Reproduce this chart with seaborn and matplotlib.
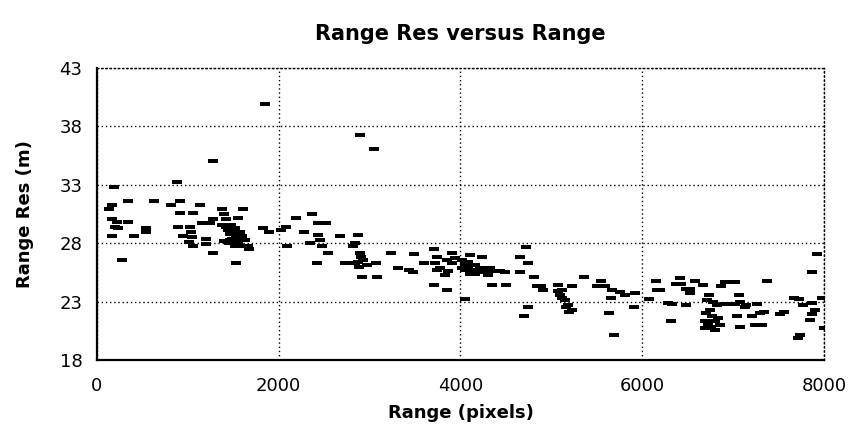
import numpy as np
import pandas as pd
import matplotlib
matplotlib.use("Agg")
import matplotlib.pyplot as plt
import matplotlib.ticker as mticker
import seaborn as sb

# values
range_pix = [
    187, 880, 341, 627, 913, 814, 1133, 165, 132, 1606, 913, 1056, 1375, 165, 220, 341,
    198, 231, 539, 539, 165, 407, 891, 1023, 946, 1155, 1243, 1276, 1397, 1419, 1375,
    1441, 1463, 1485, 1463, 1573, 1628, 1518, 1595, 1661, 1672, 1573, 1551, 1012, 1056,
    1034, 1045, 1199, 1276, 275, 1529, 1199, 1826, 1420, 1500, 1530, 1400, 1600,
    1450, 1500, 1550, 1480, 1520,
    1848, 1276, 2893, 3047,
    1892, 2024, 2079, 2189, 2365, 2431, 2519, 2277, 2090, 2431, 2453, 2343, 2475, 2541,
    2420, 2673, 2871, 2838, 2816, 2893, 2926, 2970, 2871, 2728, 2838, 3069, 2915, 3080,
    3234, 3487, 3311, 3432, 3476, 3597, 3707, 3740, 3850, 3905, 3938, 3905, 3718, 3773,
    3828, 3740, 3861, 3707, 3850, 2880, 2900,
    4015, 4081, 4158, 4048, 4158, 4235, 4103, 4235, 4323, 4400, 4345, 4499, 4488, 4719,
    4653, 4741, 4653, 4807, 4741, 4697, 4840, 4884, 4906, 4048, 4213, 4433, 4103, 4081,
    4015, 4290, 4150, 4200, 4050, 4300,
    5071, 5115, 5093, 5148, 5181, 5225, 5225, 5357, 5192, 5500, 5588, 5544, 5665, 5753,
    5808, 5654, 5918, 5632, 5907, 5687, 5071, 5120, 5160,
    6072, 6149, 6160, 6193, 6314, 6325, 6281, 6479, 6413, 6424, 6369, 6479, 6523, 6578,
    6666, 6523, 6732, 6710, 6776, 6820, 6743, 6765, 6688, 6688, 6798, 6853, 6831, 6864,
    6908, 7018, 7062, 6908, 7018, 7128, 7073, 7040, 7205, 7073, 7238, 7315, 7139, 7260,
    7370, 7293, 7337, 7513, 7557, 7667, 7766, 7865, 7898, 7865, 7843, 7733, 7711, 7997,
    7975, 7865, 7920, 7722, 6720, 6760, 6700, 6800,
]
range_res = [
    32.8, 33.2, 31.6, 31.6, 31.6, 31.3, 31.3, 31.3, 30.9, 30.9, 30.6, 30.6, 30.9, 30.1, 29.8, 29.8,
    29.4, 29.3, 29.3, 29.0, 28.6, 28.6, 29.4, 29.4, 28.6, 29.7, 29.7, 30.1, 30.5, 30.1, 29.6,
    29.1, 28.8, 28.4, 28.3, 28.3, 28.3, 27.8, 27.8, 27.8, 27.5, 29.0, 30.2, 28.1, 27.8,
    29.0, 28.5, 27.9, 27.2, 26.6, 26.3, 28.4, 29.3, 29.4, 29.0, 28.6, 28.2, 28.6,
    28.0, 28.3, 28.0, 29.6, 29.3,
    39.9, 35.0, 37.3, 36.1,
    29.0, 29.1, 29.4, 30.2, 30.5, 29.7, 29.7, 29.0, 27.8, 28.7, 28.3, 28.0, 27.8, 27.2,
    26.3, 28.6, 28.7, 28.0, 27.8, 27.2, 26.6, 26.1, 26.4, 26.3, 26.3, 26.3, 25.1, 25.1,
    27.2, 27.1, 25.9, 25.7, 25.5, 26.3, 27.5, 26.8, 26.6, 27.2, 26.7, 26.3, 26.3, 25.9,
    25.3, 25.7, 25.6, 24.4, 24.0, 26.0, 26.8,
    26.6, 26.4, 26.1, 25.7, 25.4, 25.9, 27.0, 26.8, 25.9, 25.6, 24.4, 24.4, 25.5, 27.7,
    26.8, 26.3, 25.5, 25.1, 22.5, 21.8, 24.3, 24.3, 24.0, 23.2, 25.9, 25.6, 25.4, 26.0,
    25.9, 25.6, 25.7, 25.5, 26.2, 25.3,
    24.4, 24.0, 23.6, 23.1, 22.7, 22.3, 24.3, 25.1, 22.1, 24.3, 24.3, 24.8, 24.0, 23.8,
    23.6, 23.3, 23.7, 22.0, 22.5, 20.1, 23.9, 23.3, 22.5,
    23.2, 24.8, 24.0, 24.0, 21.3, 22.8, 22.9, 22.7, 25.0, 24.5, 24.5, 24.1, 24.1, 24.8,
    24.4, 23.7, 23.6, 23.1, 23.0, 22.7, 22.3, 21.8, 21.3, 20.7, 20.6, 21.0, 21.6, 24.3,
    24.7, 24.7, 23.6, 22.8, 22.8, 22.5, 23.0, 21.8, 21.8, 20.8, 21.0, 21.0, 22.7, 22.8,
    24.8, 22.0, 22.1, 21.9, 22.1, 23.3, 22.7, 22.9, 22.3, 21.9, 21.4, 20.1, 19.9, 20.7,
    23.3, 25.5, 27.1, 23.2, 21.0, 20.8, 22.0, 21.3,
]
x_ticks = [0, 2000, 4000, 6000, 8000]
y_ticks = [18, 23, 28, 33, 38, 43]

df = pd.DataFrame({"Range": range_pix, "RangeRes": range_res})

sb.set_style("white")
plt.rcParams['font.family'] = ['DejaVu Sans']
plt.rcParams['text.color'] = 'black'
plt.rcParams['axes.labelcolor'] = 'black'

fig = plt.figure(figsize=(8.56, 4.47), dpi=100)
ax = fig.add_axes([0.1133, 0.1946, 0.8493, 0.6533])

# flat dash marker like the original
dash = [(-1, -0.45), (1, -0.45), (1, 0.45), (-1, 0.45), (-1, -0.45)]
sb.scatterplot(data=df, x="Range", y="RangeRes", ax=ax, marker=dash, s=50,
               color="black", linewidth=0, zorder=3)

ax.set_xlim(0, 8000)
ax.set_ylim(18, 43)
ax.set_xticks(x_ticks)
ax.set_yticks(y_ticks)
ax.xaxis.set_minor_locator(mticker.MultipleLocator(400))
ax.grid(True, which="major", color="black", linestyle=(0, (1, 2)), linewidth=1)
ax.set_axisbelow(True)

for side in ["top", "right"]:
    ax.spines[side].set_linestyle((0, (1, 2)))
    ax.spines[side].set_linewidth(1)
    ax.spines[side].set_color("black")
for side in ["left", "bottom"]:
    ax.spines[side].set_linewidth(1.6)
    ax.spines[side].set_color("black")

ax.tick_params(axis="both", which="major", direction="inout", length=9, width=1.5,
               labelsize=13, colors="black", pad=6)
ax.tick_params(axis="x", which="minor", direction="in", length=4, width=1.2)
ax.tick_params(axis="x", which="major", pad=8)

ax.set_title("Range Res versus Range", fontsize=15, fontweight="bold", pad=20,
             color="black")
ax.set_xlabel("Range (pixels)", fontsize=13, fontweight="bold", labelpad=6)
ax.set_ylabel("Range Res (m)", fontsize=13, fontweight="bold", labelpad=18)

plt.savefig("out.png", dpi=100)
